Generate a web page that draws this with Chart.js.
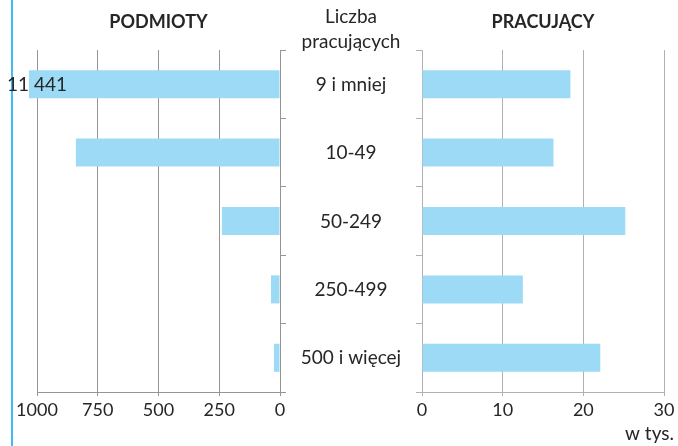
<!DOCTYPE html>
<html>
<head>
<meta charset="utf-8">
<script src="https://cdn.jsdelivr.net/npm/chart.js@4"></script>
<style>
  body { margin: 0; background: #fff; }
  #wrap { position: relative; width: 678px; height: 446px; overflow: hidden; background: #fff; }
  #edge { position: absolute; left: 11px; top: 0; width: 2px; height: 446px; background: #3dbdf0; }
  #left { position: absolute; left: 0; top: 0; }
  #right { position: absolute; left: 400px; top: 0; }
</style>
</head>
<body>
<div id="wrap">
  <div id="edge"></div>
  <canvas id="left" width="420" height="446"></canvas>
  <canvas id="right" width="278" height="446"></canvas>
</div>
<script>
const categories = ['9 i mniej', '10-49', '50-249', '250-499', '500 i więcej'];
const podmioty = [11441, 840, 239, 37, 25];      // liczba podmiotów
const pracujacy = [18.4, 16.3, 25.2, 12.5, 22.1]; // w tys.
const leftTicks = [0, 250, 500, 750, 1000];
const rightTicks = [0, 10, 20, 30];
const leftCap = 1033; // bars larger than the scale are cut here
const headerLines = ['Liczba', 'pracujących'];

const barColor = '#9ddaf5';
const textColor = '#262626';
const gridLeft = '#959595';
const gridRight = '#b0b0b0';

Chart.defaults.font.family = 'Lato';
Chart.defaults.font.size = 18;
Chart.defaults.color = textColor;

function fmt(v) {
  return String(v).replace(/\B(?=(\d{3})+(?!\d))/g, ' ');
}

const leftText = {
  id: 'leftText',
  afterDraw(chart) {
    const { ctx, chartArea: a, scales: { y } } = chart;
    ctx.save();
    ctx.fillStyle = textColor;
    ctx.textAlign = 'center';
    ctx.textBaseline = 'alphabetic';
    ctx.font = 'bold 18px Lato';
    ctx.fillText('PODMIOTY', (a.left + a.right) / 2, 28);
    ctx.font = '19px Lato';
    const mid = 351;
    ctx.fillText(headerLines[0], mid, 23);
    ctx.fillText(headerLines[1], mid, 48);
    categories.forEach((c, i) => ctx.fillText(c, mid, y.getPixelForValue(i) + 6.5));
    // value of the bar that runs off the scale
    const bar = chart.getDatasetMeta(0).data[0];
    ctx.textAlign = 'left';
    ctx.fillText(fmt(podmioty[0]), bar.x - 22, y.getPixelForValue(0) + 6.5);
    ctx.restore();
  }
};

const rightText = {
  id: 'rightText',
  afterDraw(chart) {
    const { ctx, chartArea: a } = chart;
    ctx.save();
    ctx.fillStyle = textColor;
    ctx.textBaseline = 'alphabetic';
    ctx.textAlign = 'center';
    ctx.font = 'bold 18px Lato';
    ctx.fillText('PRACUJĄCY', (a.left + a.right) / 2, 28);
    ctx.font = '19px Lato';
    ctx.textAlign = 'right';
    ctx.fillText('w tys.', chart.width - 4, 440);
    ctx.restore();
  }
};

new Chart(document.getElementById('left'), {
  type: 'bar',
  data: {
    labels: categories,
    datasets: [{
      data: podmioty.map(v => Math.min(v, leftCap)),
      backgroundColor: barColor,
      barPercentage: 0.41,
      categoryPercentage: 1,
      clip: false
    }]
  },
  options: {
    responsive: false,
    animation: false,
    indexAxis: 'y',
    layout: { padding: { top: 50, left: 37, right: 0, bottom: 0 } },
    plugins: { legend: { display: false }, tooltip: { enabled: false } },
    scales: {
      x: {
        reverse: true,
        min: 0,
        max: 1000,
        afterBuildTicks: s => { s.ticks = leftTicks.map(v => ({ value: v })); },
        afterFit: s => { s.height = 54; },
        ticks: { padding: 3, maxRotation: 0, callback: v => String(v) },
        grid: { color: gridLeft, tickLength: 4 },
        border: { color: gridLeft }
      },
      y: {
        position: 'right',
        afterFit: s => { s.width = 140; },
        ticks: { display: false },
        grid: { drawOnChartArea: false, tickLength: 6, color: gridLeft, offset: true },
        border: { color: gridLeft }
      }
    }
  },
  plugins: [leftText]
});

new Chart(document.getElementById('right'), {
  type: 'bar',
  data: {
    labels: categories,
    datasets: [{
      data: pracujacy,
      backgroundColor: barColor,
      barPercentage: 0.41,
      categoryPercentage: 1
    }]
  },
  options: {
    responsive: false,
    animation: false,
    indexAxis: 'y',
    layout: { padding: { top: 50, left: 0, right: 14, bottom: 0 } },
    plugins: { legend: { display: false }, tooltip: { enabled: false } },
    scales: {
      x: {
        min: 0,
        max: 30,
        afterBuildTicks: s => { s.ticks = rightTicks.map(v => ({ value: v })); },
        afterFit: s => { s.height = 54; },
        ticks: { padding: 3, maxRotation: 0, callback: v => String(v) },
        grid: { color: gridRight, tickLength: 4 },
        border: { color: gridRight }
      },
      y: {
        position: 'left',
        afterFit: s => { s.width = 22; },
        ticks: { display: false },
        grid: { drawOnChartArea: false, tickLength: 6, color: gridRight, offset: true },
        border: { color: gridRight }
      }
    }
  },
  plugins: [rightText]
});
</script>
</body>
</html>
